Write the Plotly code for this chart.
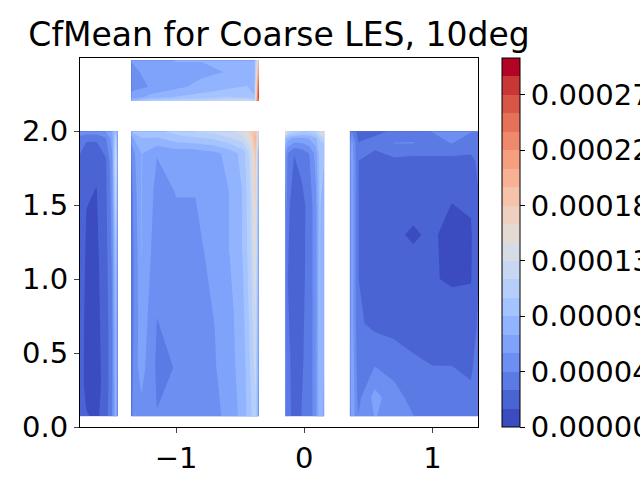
import plotly.graph_objects as go

# CfMean values are given in units of 1e-5
SCALE = 1e-5
CF_MAX = 29.7          # top of colour range (x1e-5)
N_LEVELS = 20

# left strip
a_x = [-1.75, -1.70, -1.62, -1.55, -1.50, -1.47, -1.455]
a_y = [0.072, 0.3, 0.7, 1.1, 1.5, 1.8, 1.95, 2.0]
a_z = [
    [2.6, 1.6, 1.2, 2.2, 4.5, 8.0, 4.5],
    [2.2, 1.0, 1.0, 2.0, 4.2, 8.5, 5.0],
    [2.0, 1.2, 1.1, 2.1, 4.2, 9.0, 5.0],
    [2.2, 1.3, 1.2, 2.3, 4.6, 9.5, 5.5],
    [2.4, 1.5, 1.4, 2.5, 5.0, 12.0, 6.0],
    [2.6, 1.7, 1.6, 2.7, 5.5, 13.5, 6.5],
    [3.8, 3.2, 3.2, 4.2, 6.5, 11.5, 6.5],
    [5.5, 5.5, 5.5, 6.0, 7.5, 9.5, 7.0],
]

# wide block left of centre
b_x = [-1.35, -1.32, -1.27, -1.15, -1.0, -0.85, -0.7, -0.58, -0.48, -0.42, -0.38, -0.355]
b_y = [0.072, 0.4, 0.8, 1.2, 1.6, 1.85, 1.96, 2.0]
b_z = [
    [4.0, 6.0, 5.5, 4.5, 4.8, 5.0, 5.5, 6.5, 8.0, 10.0, 11.5, 6.0],
    [3.5, 5.5, 6.5, 4.2, 4.5, 5.0, 5.8, 7.0, 8.0, 10.5, 12.5, 6.5],
    [3.5, 5.0, 7.0, 4.5, 5.0, 5.5, 6.0, 7.0, 8.5, 11.0, 13.5, 7.0],
    [3.5, 5.0, 7.5, 5.0, 5.5, 5.5, 6.5, 7.5, 9.0, 11.5, 15.5, 7.0],
    [3.8, 5.5, 7.5, 5.5, 6.0, 6.0, 6.5, 7.5, 9.0, 12.0, 17.0, 7.5],
    [4.5, 6.0, 7.5, 6.0, 6.5, 6.5, 7.0, 8.0, 9.5, 12.5, 18.5, 8.0],
    [7.0, 8.0, 9.0, 9.0, 10.0, 10.5, 11.0, 12.0, 13.0, 16.0, 20.0, 12.0],
    [9.0, 10.0, 10.5, 10.0, 11.0, 12.0, 12.5, 13.0, 14.5, 17.5, 19.0, 14.0],
]

# top block
c_x = [-1.35, -1.2, -1.0, -0.8, -0.6, -0.45, -0.39, -0.37, -0.355]
c_y = [2.205, 2.23, 2.3, 2.4, 2.48]
c_z = [
    [9.0, 11.0, 11.5, 12.0, 13.0, 13.5, 12.0, 22.0, 26.0],
    [6.5, 8.0, 9.0, 9.5, 10.5, 10.0, 9.0, 20.0, 29.0],
    [5.5, 6.0, 7.0, 8.0, 8.5, 9.0, 8.5, 18.0, 28.0],
    [5.5, 6.5, 7.0, 7.0, 7.5, 8.0, 8.0, 15.0, 24.0],
    [6.0, 7.0, 7.5, 7.5, 8.0, 8.5, 8.5, 14.0, 20.0],
]

# centre strip
d_x = [-0.15, -0.13, -0.08, -0.02, 0.04, 0.09, 0.12, 0.155]
d_y = [0.072, 0.5, 1.0, 1.5, 1.85, 1.95, 2.0]
d_z = [
    [5.0, 3.5, 2.5, 3.0, 3.5, 5.5, 8.5, 7.0],
    [5.5, 3.5, 2.2, 2.8, 3.5, 5.5, 9.0, 7.5],
    [5.5, 3.0, 2.0, 2.6, 3.5, 5.5, 9.0, 8.0],
    [6.0, 3.5, 2.0, 2.5, 3.5, 5.5, 9.0, 8.5],
    [7.0, 4.5, 3.0, 3.5, 4.5, 6.5, 9.5, 9.0],
    [10.0, 8.0, 7.0, 7.0, 7.5, 8.5, 10.5, 11.0],
    [20.0, 13.0, 12.0, 11.0, 11.0, 12.0, 14.0, 20.0],
]

# right block
e_x = [0.355, 0.37, 0.42, 0.55, 0.7, 0.85, 1.0, 1.15, 1.3, 1.36]
e_y = [0.072, 0.2, 0.4, 0.7, 1.0, 1.3, 1.6, 1.8, 1.92, 2.0]
e_z = [
    [4.0, 7.0, 4.5, 6.0, 5.5, 4.5, 4.0, 3.8, 3.5, 4.0],
    [4.0, 7.5, 4.0, 6.5, 5.0, 4.0, 3.5, 3.3, 3.2, 3.8],
    [4.0, 7.5, 3.5, 4.5, 4.0, 3.2, 3.0, 3.0, 2.8, 3.5],
    [4.0, 7.0, 3.2, 2.6, 2.4, 2.5, 2.4, 2.3, 2.2, 3.2],
    [4.0, 7.0, 3.0, 2.0, 1.9, 1.8, 1.6, 1.3, 1.4, 3.0],
    [4.0, 7.0, 3.0, 2.0, 1.6, 1.4, 1.6, 1.2, 1.3, 3.0],
    [4.0, 7.0, 3.0, 2.0, 1.8, 1.8, 1.8, 1.6, 1.8, 3.0],
    [4.0, 7.0, 3.0, 2.2, 2.6, 2.4, 2.6, 2.4, 2.4, 3.4],
    [4.0, 6.5, 3.0, 3.5, 4.5, 4.5, 4.0, 4.5, 4.0, 4.0],
    [3.5, 4.5, 2.5, 2.6, 3.2, 4.0, 4.5, 4.5, 4.5, 4.5],
]

cbar_ticks = [0.0, 4.455, 8.91, 13.365, 17.82, 22.275, 26.73]
cbar_text = ["0.00000", "0.00004", "0.00009", "0.00013", "0.00018", "0.00022", "0.00027"]

# coolwarm (Moreland table)
coolwarm = [
    (59, 76, 192), (68, 90, 204), (77, 104, 215), (87, 117, 225), (98, 130, 234),
    (108, 142, 241), (119, 154, 247), (130, 165, 251), (141, 176, 254), (152, 185, 255),
    (163, 194, 255), (174, 201, 253), (184, 208, 249), (194, 213, 244), (204, 217, 238),
    (213, 219, 230), (221, 221, 221), (229, 216, 209), (236, 211, 197), (241, 204, 185),
    (245, 196, 173), (247, 187, 160), (247, 177, 148), (247, 166, 135), (244, 154, 123),
    (241, 141, 111), (236, 127, 99), (229, 112, 88), (222, 96, 77), (213, 80, 66),
    (203, 62, 56), (192, 40, 47), (180, 4, 38),
]


def cw(t):
    p = t * (len(coolwarm) - 1)
    i = min(int(p), len(coolwarm) - 2)
    f = p - i
    c = [round(coolwarm[i][k] + (coolwarm[i + 1][k] - coolwarm[i][k]) * f) for k in range(3)]
    return "rgb(%d,%d,%d)" % tuple(c)


# stepped colour scale, one flat step per contour band
scale = []
for i in range(N_LEVELS):
    col = cw(i / (N_LEVELS - 1))
    scale.append([i / N_LEVELS, col])
    scale.append([(i + 1) / N_LEVELS, col])

fig = go.Figure()
for xs, ys, zs in [(a_x, a_y, a_z), (b_x, b_y, b_z), (c_x, c_y, c_z), (d_x, d_y, d_z), (e_x, e_y, e_z)]:
    fig.add_trace(go.Contour(
        x=xs, y=ys, z=[[v * SCALE for v in row] for row in zs],
        coloraxis="coloraxis",
        contours=dict(start=0, end=CF_MAX * SCALE, size=CF_MAX * SCALE / N_LEVELS, coloring="fill"),
        line=dict(width=0, smoothing=0),
        hoverinfo="skip",
    ))

font = "DejaVu Sans"
tick_size = 29

# colour bar drawn from an empty scatter so its axis runs exactly 0..max
fig.add_trace(go.Scatter(
    x=[None, None], y=[None, None], mode="markers", hoverinfo="skip",
    marker=dict(
        color=[0, CF_MAX * SCALE], colorscale=scale, cmin=0, cmax=CF_MAX * SCALE, showscale=True,
        colorbar=dict(
            thickness=18, len=1, lenmode="fraction", x=502 / 640, xref="container", xanchor="left",
            y=0.5, yanchor="middle", xpad=0, ypad=0,
            outlinewidth=1, outlinecolor="black",
            ticks="outside", ticklen=5, tickwidth=1, tickcolor="black",
            tickvals=[v * SCALE for v in cbar_ticks], ticktext=cbar_text,
            tickfont=dict(family=font, size=tick_size, color="black"),
        ),
    ),
))

fig.update_layout(
    width=640, height=480,
    margin=dict(l=80, r=162, t=58, b=53, autoexpand=False),
    paper_bgcolor="white", plot_bgcolor="white",
    font=dict(family=font, color="black", size=tick_size),
    showlegend=False,
    title=dict(text="CfMean for Coarse LES, 10deg", x=0.5, xref="paper", xanchor="center",
               y=1 - 34 / 480, yref="container", yanchor="middle",
               font=dict(family=font, size=33, color="black")),
    coloraxis=dict(colorscale=scale, cmin=0, cmax=CF_MAX * SCALE, showscale=False),
)
fig.update_xaxes(range=[-1.75, 1.355], tickvals=[-1, 0, 1], ticks="outside", ticklen=5, tickwidth=1,
                 showline=True, linecolor="black", linewidth=1, mirror=True, showgrid=False,
                 zeroline=False, tickfont=dict(size=tick_size))
fig.update_yaxes(range=[0, 2.495], tickvals=[0, 0.5, 1.0, 1.5, 2.0], tickformat=".1f", ticks="outside",
                 ticklen=5, tickwidth=1, showline=True, linecolor="black", linewidth=1, mirror=True,
                 showgrid=False, zeroline=False, tickfont=dict(size=tick_size))

# page body has a default margin; drop it so the figure sits at the window corner
fig.write_html("out.html", config={"displayModeBar": False},
               post_script="document.body.style.margin='0';")
